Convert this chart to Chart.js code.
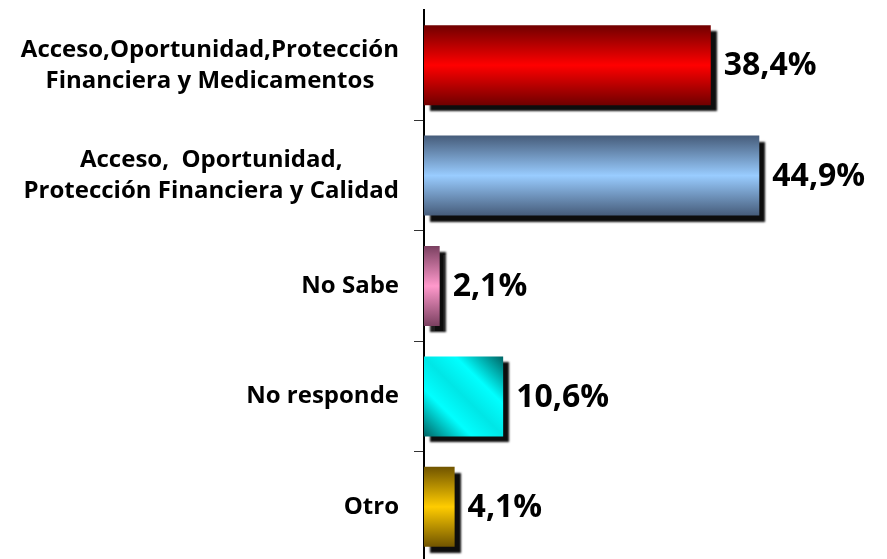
<!DOCTYPE html>
<html>
<head>
<meta charset="utf-8">
<script src="https://cdn.jsdelivr.net/npm/chart.js@4"></script>
<style>
  html, body { margin: 0; padding: 0; background: #fff; overflow: hidden; }
  #wrap { width: 887px; height: 562px; }
</style>
</head>
<body>
<div id="wrap"><canvas id="chart"></canvas></div>
<script>
// categories (each entry = lines of the label)
const categories = [
    ['Acceso,Oportunidad,Protección', 'Financiera y Medicamentos'],
    ['Acceso,  Oportunidad,', 'Protección Financiera y Calidad'],
    ['No Sabe'],
    ['No responde'],
    ['Otro']
];
const percentages = [38.4, 44.9, 2.1, 10.6, 4.1];
// dark edge / bright centre of each bar
const darkColors = ['#700000', '#465c7a', '#7a4060', '#006464', '#705400'];
const lightColors = ['#ff0000', '#99ccff', '#ff99cc', '#00ffff', '#ffcc00'];

const BAR_PCT = 0.725;
const LABEL_FONT = 'bold 24px "Open Sans"';
const VALUE_FONT = 'bold 32px "Open Sans"';

function barFill(context) {
    const chart = context.chart;
    const i = context.dataIndex;
    if (!chart.chartArea) return lightColors[i];
    const ys = chart.scales.y, xs = chart.scales.x;
    const c = ys.getPixelForValue(i);
    const half = (ys.height / categories.length) * BAR_PCT / 2;
    let g;
    if (i === 3) {
        // diagonal sheen on the cyan bar
        const x0 = xs.getPixelForValue(0), x1 = xs.getPixelForValue(percentages[i]);
        g = chart.ctx.createLinearGradient(x0, c + half, x1, c - half);
        g.addColorStop(0, darkColors[i]);
        g.addColorStop(0.3, lightColors[i]);
        g.addColorStop(0.5, '#00e6e6');
        g.addColorStop(0.7, lightColors[i]);
        g.addColorStop(1, darkColors[i]);
    } else {
        g = chart.ctx.createLinearGradient(0, c - half, 0, c + half);
        g.addColorStop(0, darkColors[i]);
        g.addColorStop(0.5, lightColors[i]);
        g.addColorStop(1, darkColors[i]);
    }
    return g;
}

const decorations = {
    id: 'decorations',
    beforeDatasetsDraw(chart) {
        const ctx = chart.ctx;
        ctx.save();
        ctx.shadowColor = 'rgba(0,0,0,0.95)';
        ctx.shadowOffsetX = 6;
        ctx.shadowOffsetY = 6;
        ctx.shadowBlur = 2;
    },
    afterDatasetsDraw(chart) {
        const ctx = chart.ctx;
        ctx.restore();
        // value labels
        ctx.save();
        ctx.font = VALUE_FONT;
        ctx.fillStyle = '#000';
        ctx.textAlign = 'left';
        ctx.textBaseline = 'middle';
        chart.getDatasetMeta(0).data.forEach((bar, i) => {
            ctx.fillText(percentages[i].toFixed(1).replace('.', ',') + '%', bar.x + 13, bar.y + 1);
        });
        ctx.restore();
    },
    afterDraw(chart) {
        // category labels: wrapped lines centred, block right-aligned to the axis
        const ctx = chart.ctx;
        const ys = chart.scales.y;
        const right = chart.chartArea.left - 25;
        const lineH = 31;
        ctx.save();
        ctx.font = LABEL_FONT;
        ctx.fillStyle = '#000';
        ctx.textAlign = 'center';
        ctx.textBaseline = 'middle';
        categories.forEach((lines, i) => {
            const w = Math.max(...lines.map(l => ctx.measureText(l).width));
            const cx = right - w / 2;
            const cy = ys.getPixelForValue(i);
            lines.forEach((l, k) => {
                ctx.fillText(l, cx, cy + (k - (lines.length - 1) / 2) * lineH);
            });
        });
        ctx.restore();
    }
};

new Chart(document.getElementById('chart'), {
    type: 'bar',
    data: {
        labels: categories,
        datasets: [{
            data: percentages,
            backgroundColor: barFill,
            borderWidth: 0,
            barPercentage: BAR_PCT,
            categoryPercentage: 1
        }]
    },
    options: {
        indexAxis: 'y',
        responsive: true,
        maintainAspectRatio: false,
        animation: false,
        layout: { padding: { left: 414, top: 10, right: 0, bottom: 0 } },
        plugins: {
            legend: { display: false },
            tooltip: { enabled: false }
        },
        scales: {
            x: { display: false, min: 0, max: 62 },
            y: {
                ticks: { display: false },
                grid: {
                    drawOnChartArea: false,
                    drawTicks: true,
                    tickLength: 10,
                    color: ctx => (ctx.index === 0 ? 'rgba(0,0,0,0)' : '#333'),
                    lineWidth: 1
                },
                border: { display: true, color: '#000', width: 2 }
            }
        }
    },
    plugins: [decorations]
});
</script>
</body>
</html>
